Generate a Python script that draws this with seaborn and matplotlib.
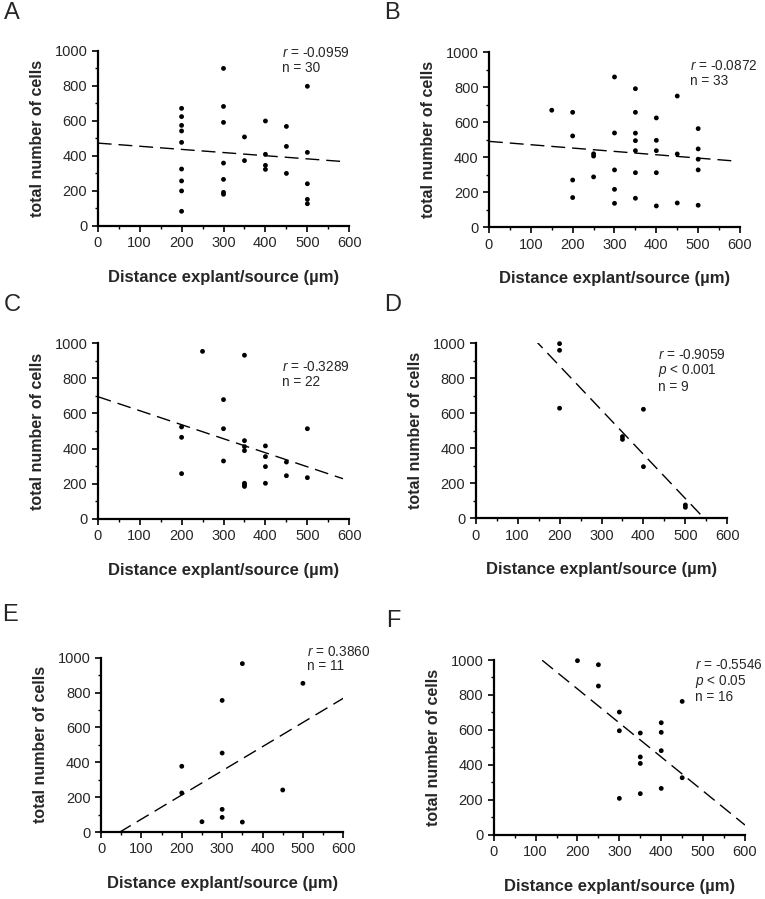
import numpy as np
import pandas as pd
import matplotlib.pyplot as plt
import seaborn as sns
from matplotlib.ticker import MultipleLocator

# ==== Data ====
panels = ["A", "B", "C", "D", "E", "F"]

a_x = [200] * 9 + [300] * 7 + [350] * 2 + [400] * 4 + [450] * 3 + [500] * 5
a_y = [671, 624, 574, 542, 477, 325, 257, 200, 84,
       899, 682, 591, 359, 266, 192, 181,
       508, 373,
       599, 409, 346, 323,
       568, 454, 300,
       797, 420, 241, 152, 127]

b_x = [150] + [200] * 4 + [250] * 3 + [300] * 5 + [350] * 7 + [400] * 5 + [450] * 3 + [500] * 5
b_y = [669,
       657, 522, 270, 170,
       420, 407, 288,
       859, 539, 328, 217, 137,
       792, 657, 538, 495, 438, 312, 166,
       625, 497, 438, 312, 122,
       750, 419, 139,
       564, 448, 389, 328, 126]

c_x = [200] * 3 + [250] + [300] * 3 + [350] * 7 + [400] * 4 + [450] * 2 + [500] * 2
c_y = [523, 464, 257,
       954,
       679, 513, 329,
       932, 445, 411, 388, 202, 194, 184,
       415, 354, 297, 202,
       323, 245,
       513, 234]

d_x = [200, 200, 200, 350, 350, 400, 400, 500, 500]
d_y = [998, 960, 629, 467, 451, 623, 295, 76, 63]

e_x = [200, 200, 250, 300, 300, 300, 300, 350, 350, 450, 500]
e_y = [377, 224, 59, 755, 453, 130, 84, 966, 57, 241, 853]

f_x = [200, 250, 250, 300, 300, 300, 350, 350, 350, 350, 400, 400, 400, 400, 450, 450]
f_y = [996, 973, 851, 702, 595, 208, 582, 445, 408, 235, 641, 586, 481, 265, 763, 326]

# regression lines as drawn in the figure
fit_intercept = [473, 491, 696, 1376, -65, 1224]
fit_slope = [-0.18, -0.191, -0.80, -2.526, 1.387, -1.948]
fit_xmax = [585, 585, 585, 600, 600, 600]

stats_text = [
    "$\\it{r}$ = -0.0959\nn = 30",
    "$\\it{r}$ = -0.0872\nn = 33",
    "$\\it{r}$ = -0.3289\nn = 22",
    "$\\it{r}$ = -0.9059\n$\\it{p}$ < 0.001\nn = 9",
    "$\\it{r}$ = 0.3860\nn = 11",
    "$\\it{r}$ = -0.5546\n$\\it{p}$ < 0.05\nn = 16",
]

xs = [a_x, b_x, c_x, d_x, e_x, f_x]
ys = [a_y, b_y, c_y, d_y, e_y, f_y]

# ==== Layout (pixel positions of each axes: x0, x600, y0, y1000) ====
W, H = 765, 899
axes_px = [
    (97.7, 349.3, 226.0, 50.7),
    (489.0, 740.0, 227.3, 52.3),
    (97.7, 349.3, 518.7, 343.3),
    (475.7, 727.3, 518.3, 343.3),
    (101.0, 343.3, 832.0, 657.7),
    (493.7, 745.0, 834.7, 660.0),
]
letter_px = [(4, 2), (384, 2), (4, 294), (384, 294), (2, 604), (386, 610)]
text_pos = [(0.733, 1.025), (0.80, 0.96), (0.733, 0.905),
            (0.725, 0.975), (0.849, 1.075), (0.80, 1.01)]

sns.set_style("ticks")
plt.rcParams['font.family'] = ['Liberation Sans', 'DejaVu Sans']
plt.rcParams['mathtext.fontset'] = 'custom'
plt.rcParams['mathtext.rm'] = 'Liberation Sans'
plt.rcParams['mathtext.it'] = 'Liberation Sans:italic'

fig = plt.figure(figsize=(W / 100, H / 100), dpi=100)

for i, p in enumerate(panels):
    x0, x1, y0, y1 = axes_px[i]
    ax = fig.add_axes([x0 / W, 1 - y0 / H, (x1 - x0) / W, (y0 - y1) / H])
    df = pd.DataFrame({"x": xs[i], "y": ys[i]})
    sns.scatterplot(data=df, x="x", y="y", ax=ax, color="black", s=12,
                    edgecolor="none", clip_on=False, zorder=3)

    lx = np.array([0, fit_xmax[i]])
    line = pd.DataFrame({"x": lx, "y": fit_intercept[i] + fit_slope[i] * lx})
    sns.lineplot(data=line, x="x", y="y", ax=ax, color="black", lw=1.0,
                 dashes=False, linestyle=(0, (10, 5)))

    ax.set_xlim(0, 600)
    ax.set_ylim(0, 1000)
    ax.set_xticks(range(0, 601, 100))
    ax.set_yticks(range(0, 1001, 200))
    ax.xaxis.set_minor_locator(MultipleLocator(50))
    ax.yaxis.set_minor_locator(MultipleLocator(100))
    ax.tick_params(which="major", length=4, width=1.2, labelsize=10.5, color="black")
    ax.tick_params(which="minor", length=2.5, width=1.0, color="black")
    for s in ["left", "bottom"]:
        ax.spines[s].set_linewidth(1.6)
        ax.spines[s].set_color("black")
    sns.despine(ax=ax)
    ax.set_xlabel("Distance explant/source (\u00b5m)", fontsize=12,
                  fontweight="bold", labelpad=14)
    ax.set_ylabel("total number of cells", fontsize=11.5, fontweight="bold",
                  labelpad=7)

    tx, ty = text_pos[i]
    ax.text(tx, ty, stats_text[i], transform=ax.transAxes, fontsize=9.8,
            va="top", ha="left", linespacing=1.05)

    lx_, ly_ = letter_px[i]
    fig.text(lx_ / W, 1 - ly_ / H, p, fontsize=17, va="top", ha="left")

plt.savefig("out.png", dpi=100)
